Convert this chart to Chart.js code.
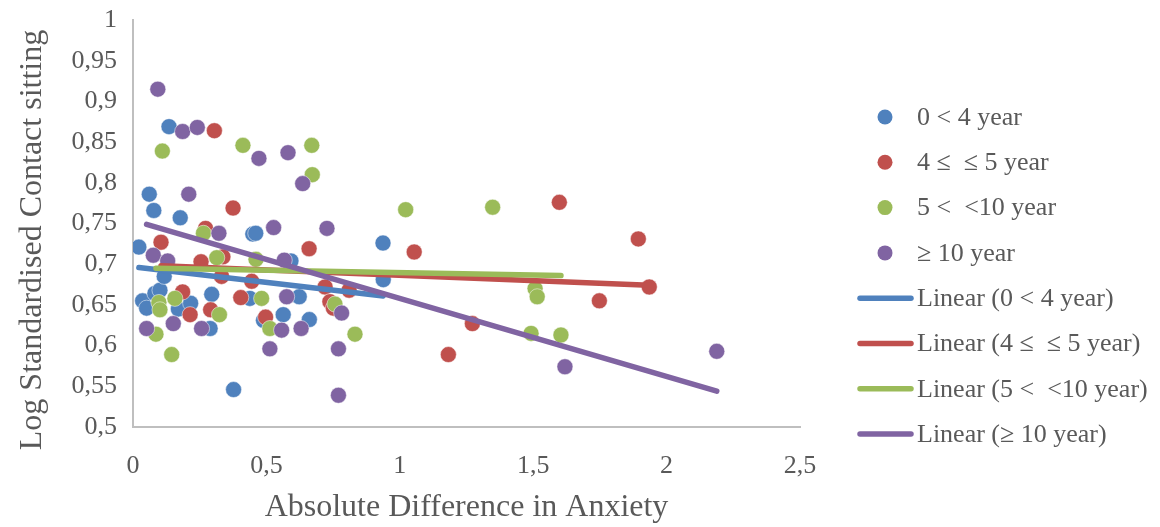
<!DOCTYPE html>
<html>
<head>
<meta charset="utf-8">
<script src="https://cdn.jsdelivr.net/npm/chart.js@4.4.1/dist/chart.umd.min.js"></script>
<style>
  html, body { margin: 0; padding: 0; background: #fff; }
  #wrap { width: 1160px; height: 527px; }
</style>
</head>
<body>
<div id="wrap"><canvas id="myChart" width="1160" height="527"></canvas></div>
<script>
// values
var seriesNames = ["0 < 4 year", "4 \u2264  \u2264 5 year", "5 <  <10 year", "\u2265 10 year"];
var seriesColors = ["#4F81BD", "#C0504D", "#9BBB59", "#8064A2"];

var blueX = [0.022, 0.036, 0.051, 0.061, 0.078, 0.082, 0.101, 0.117, 0.135, 0.17, 0.177, 0.216, 0.289, 0.295, 0.377, 0.438, 0.449, 0.46, 0.489, 0.563, 0.592, 0.623, 0.661, 0.937, 0.938];
var blueY = [0.721, 0.655, 0.646, 0.786, 0.766, 0.664, 0.668, 0.685, 0.869, 0.645, 0.757, 0.652, 0.621, 0.663, 0.546, 0.658, 0.737, 0.738, 0.631, 0.638, 0.704, 0.66, 0.632, 0.726, 0.681];

var redX = [0.105, 0.186, 0.214, 0.255, 0.272, 0.291, 0.305, 0.332, 0.337, 0.375, 0.404, 0.445, 0.497, 0.66, 0.72, 0.738, 0.751, 0.81, 1.054, 1.182, 1.272, 1.598, 1.748, 1.894, 1.935];
var redY = [0.727, 0.666, 0.638, 0.703, 0.744, 0.644, 0.864, 0.685, 0.709, 0.769, 0.659, 0.679, 0.635, 0.719, 0.672, 0.654, 0.646, 0.668, 0.715, 0.589, 0.627, 0.776, 0.655, 0.731, 0.672];

var greenX = [0.086, 0.097, 0.101, 0.11, 0.145, 0.157, 0.264, 0.314, 0.324, 0.412, 0.461, 0.482, 0.513, 0.67, 0.672, 0.757, 0.832, 1.022, 1.348, 1.492, 1.507, 1.515, 1.604];
var greenY = [0.614, 0.653, 0.644, 0.839, 0.589, 0.658, 0.738, 0.708, 0.638, 0.846, 0.706, 0.658, 0.621, 0.846, 0.81, 0.651, 0.614, 0.767, 0.77, 0.615, 0.67, 0.66, 0.613];

var purpleX = [0.051, 0.076, 0.093, 0.13, 0.151, 0.186, 0.209, 0.241, 0.257, 0.322, 0.472, 0.513, 0.527, 0.557, 0.567, 0.576, 0.581, 0.63, 0.636, 0.727, 0.77, 0.77, 0.782, 1.619, 2.188];
var purpleY = [0.621, 0.711, 0.915, 0.704, 0.627, 0.863, 0.786, 0.868, 0.621, 0.738, 0.83, 0.596, 0.745, 0.619, 0.705, 0.66, 0.837, 0.621, 0.799, 0.744, 0.596, 0.539, 0.64, 0.574, 0.593];

// linear trendline end points (start, end)
var trendBlueX = [0.022, 0.938];
var trendBlueY = [0.696, 0.661];
var trendRedX = [0.105, 1.935];
var trendRedY = [0.698, 0.674];
var trendGreenX = [0.086, 1.604];
var trendGreenY = [0.695, 0.686];
var trendPurpleX = [0.051, 2.188];
var trendPurpleY = [0.749, 0.544];

var xTitle = "Absolute Difference in Anxiety";
var yTitle = "Log Standardised Contact sitting";

const toPoints = (xs, ys) => xs.map((x, i) => ({ x: x, y: ys[i] }))
const comma = (v) => String(Math.round(v * 100) / 100).replace(".", ",")

var scatterX = [blueX, redX, greenX, purpleX];
var scatterY = [blueY, redY, greenY, purpleY];
var trendX = [trendBlueX, trendRedX, trendGreenX, trendPurpleX];
var trendY = [trendBlueY, trendRedY, trendGreenY, trendPurpleY];

var datasets = [];
for (let i = 0; i < 4; i++) {
    datasets.push({
        type: "line",
        label: "Linear (" + seriesNames[i] + ")",
        data: toPoints(trendX[i], trendY[i]),
        borderColor: seriesColors[i],
        borderWidth: 5.5,
        borderCapStyle: "round",
        pointRadius: 0,
        showLine: true,
        fill: false,
        order: 3 - i
    });
}
for (let i = 0; i < 4; i++) {
    datasets.push({
        type: "scatter",
        label: seriesNames[i],
        data: toPoints(scatterX[i], scatterY[i]),
        backgroundColor: seriesColors[i],
        borderColor: "#ffffff",
        borderWidth: 0.5,
        pointRadius: 8,
        pointHoverRadius: 8,
        order: 7 - i
    });
}

const textColor = "#595959";
const serif = "'Liberation Serif', 'Times New Roman', serif";

// legend + y title drawn by hand so the spacing matches the picture
const extras = {
    id: "extras",
    afterDraw(chart) {
        const ctx = chart.ctx;
        ctx.save();
        ctx.font = "26px " + serif;
        ctx.fillStyle = textColor;
        ctx.textBaseline = "middle";
        ctx.textAlign = "left";
        const top = 117, step = 45.3;
        for (let i = 0; i < 4; i++) {
            const y = top + step * i;
            ctx.beginPath();
            ctx.arc(885, y, 7.5, 0, Math.PI * 2);
            ctx.fillStyle = seriesColors[i];
            ctx.fill();
            ctx.fillStyle = textColor;
            ctx.fillText(seriesNames[i], 917, y + 1);
        }
        for (let i = 0; i < 4; i++) {
            const y = top + step * (i + 4);
            ctx.beginPath();
            ctx.moveTo(860, y);
            ctx.lineTo(911, y);
            ctx.lineWidth = 5.5;
            ctx.lineCap = "round";
            ctx.strokeStyle = seriesColors[i];
            ctx.stroke();
            ctx.fillStyle = textColor;
            ctx.fillText("Linear (" + seriesNames[i] + ")", 917, y + 1);
        }
        // y axis title
        ctx.translate(33, 240);
        ctx.rotate(-Math.PI / 2);
        ctx.textAlign = "center";
        ctx.font = "32px " + serif;
        ctx.fillText(yTitle, 0, 0);
        ctx.restore();
    }
};

new Chart("myChart", {
    data: { datasets: datasets },
    options: {
        responsive: false,
        animation: false,
        layout: { padding: { left: 0, right: 360, top: 20, bottom: 0 } },
        plugins: {
            legend: { display: false },
            tooltip: { enabled: false }
        },
        scales: {
            x: {
                type: "linear",
                min: 0,
                max: 2.5,
                grid: { display: false, drawTicks: false },
                border: { display: true, color: "#BFBFBF", width: 2 },
                ticks: {
                    stepSize: 0.5,
                    color: textColor,
                    font: { family: serif, size: 26 },
                    padding: 24,
                    callback: (v) => comma(v)
                },
                title: {
                    display: true,
                    text: xTitle,
                    color: textColor,
                    font: { family: serif, size: 32 },
                    padding: { top: 0, bottom: 0 }
                },
                afterFit: (scale) => { scale.height = 100 }
            },
            y: {
                type: "linear",
                min: 0.5,
                max: 1,
                grid: { display: false, drawTicks: false },
                border: { display: true, color: "#BFBFBF", width: 2 },
                ticks: {
                    stepSize: 0.05,
                    color: textColor,
                    font: { family: serif, size: 26 },
                    padding: 16,
                    callback: (v) => comma(v)
                },
                afterFit: (scale) => {
                    scale.width = 133
                    scale.paddingTop = 0
                    scale.paddingBottom = 0
                }
            }
        }
    },
    plugins: [extras]
});
</script>
</body>
</html>
